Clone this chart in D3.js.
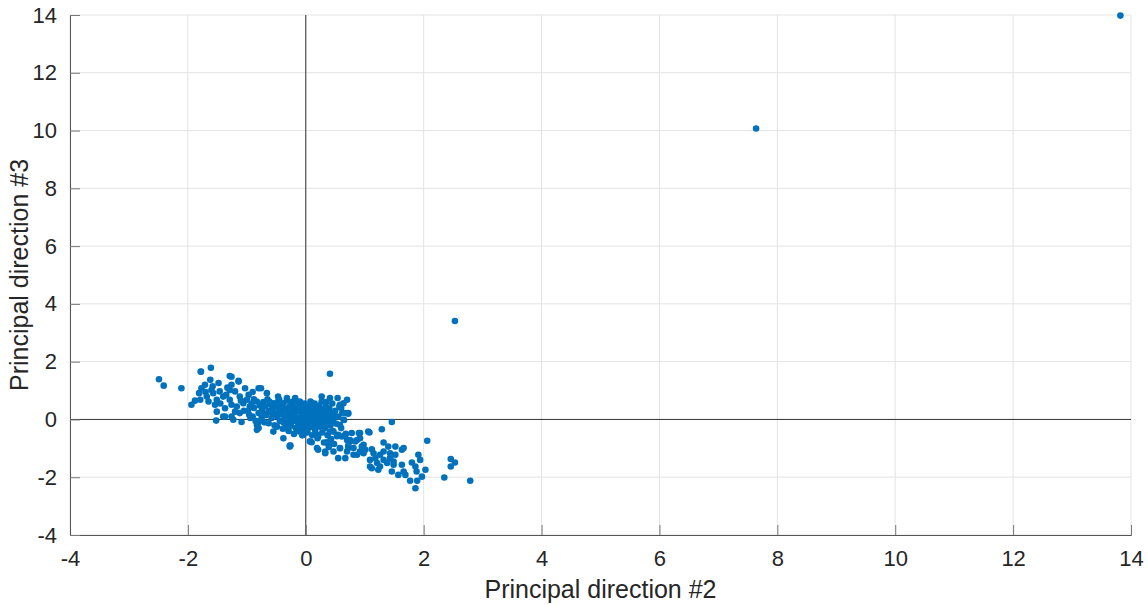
<!DOCTYPE html>
<html><head><meta charset="utf-8">
<script src="https://cdn.jsdelivr.net/npm/d3@7"></script>
<style>
body{margin:0;background:#fff;}
text{font-family:"Liberation Sans",Arial,Helvetica,sans-serif;}
</style></head>
<body><svg id="chart" width="1148" height="605"></svg>
<script>
const xTicks = [-4,-2,0,2,4,6,8,10,12,14];
const yTicks = [-4,-2,0,2,4,6,8,10,12,14];
const xLabel = "Principal direction #2";
const yLabel = "Principal direction #3";

// outliers
const outliers = [[13.82,13.98],[7.64,10.07],[2.53,3.41]];

// left tail of the cluster
const leftPts = [[-2.49,1.39],[-2.41,1.17],[-2.11,1.08],[-1.78,1.65],[-1.61,1.79],[-1.62,1.37],[-1.71,1.20],[-1.77,1.08],[-1.81,0.91],[-1.88,0.65],[-1.94,0.51],[-1.79,0.68],[-1.68,0.79],[-1.60,1.02],[-1.57,0.91],[-1.51,0.68],[-1.54,0.51],[-1.65,0.62],[-1.46,0.97],[-1.48,1.26],[-1.40,0.79],[-1.51,0.27],[-1.52,-0.04],[-1.37,0.39],[-1.37,0.10],[-1.29,1.50],[-1.26,1.20],[-1.14,1.31],[-1.29,1.02],[-1.20,0.97],[-1.03,1.08],[-1.12,0.79],[-1.29,0.68],[-1.26,0.51],[-1.17,0.45],[-1.06,0.56],[-1.00,0.68],[-1.20,0.27],[-1.12,0.22],[-1.26,0.10],[-1.23,-0.01],[-1.09,-0.09],[-0.96,0.16],[-0.95,0.45],[-0.97,0.85],[-1.40,0.10],[-1.78,1.66],[-1.26,1.48],[-1.14,1.34],[-0.80,1.08],
[-1.70,0.95],[-1.45,0.55],[-1.35,0.85],[-1.10,0.65],[-1.05,0.30],[-0.90,0.95],[-1.33,1.10],[-1.58,1.15]];

// central dense blob
const centerPts = [[-0.76,1.08],[-0.66,0.91],[-0.47,0.79],[-0.32,0.74],[-0.18,0.74],[-0.10,0.62],[0.10,0.56],[0.27,0.79],[0.41,0.74],[0.54,0.74],[0.70,0.68],[0.41,1.58],
[-0.98,0.30],[-0.92,0.55],[-0.90,0.10],[-0.88,0.40],[-0.85,-0.05],[-0.83,0.62],[-0.83,-0.19],[-0.80,0.22],[-0.78,0.48],[-0.75,0.04],[-0.74,0.33],[-0.72,0.60],[-0.70,-0.10],[-0.69,0.45],[-0.67,0.15],[-0.65,0.70],[-0.63,-0.13],[-0.62,0.30],[-0.60,0.52],[-0.58,0.05],[-0.56,0.38],[-0.55,0.56],[-0.53,-0.20],[-0.52,0.20],[-0.50,0.45],
[-0.49,-0.25],[-0.48,0.10],[-0.47,0.62],[-0.45,0.30],[-0.44,-0.05],[-0.42,0.50],[-0.40,0.18],[-0.39,-0.32],[-0.38,0.56],[-0.36,0.02],[-0.35,0.36],[-0.33,-0.15],[-0.32,0.66],[-0.30,0.25],[-0.29,-0.40],[-0.28,0.45],[-0.27,0.08],[-0.26,-0.90],[-0.25,-0.22],[-0.24,0.55],[-0.22,0.32],[-0.21,-0.05],[-0.20,-0.50],[-0.19,0.15],[-0.18,0.42],[-0.17,-0.30],[-0.15,0.62],[-0.14,0.05],[-0.13,-0.12],[-0.12,0.28],[-0.11,-0.42],[-0.10,0.48],[-0.09,-0.20],[-0.08,0.10],[-0.07,0.36],[-0.06,-0.55],[-0.05,-0.02],[-0.04,0.22],[-0.03,-0.32],[-0.02,0.55],[-0.01,0.08],
[0.01,-0.15],[0.02,0.30],[0.03,-0.45],[0.04,0.12],[0.05,0.45],[0.06,-0.28],[0.07,0.02],[0.08,0.62],[0.09,-0.08],[0.10,0.25],[0.10,-0.79],[0.11,-0.55],[0.12,0.40],[0.13,0.08],[0.14,-0.20],[0.15,0.55],[0.16,-0.38],[0.17,0.18],[0.18,-0.05],[0.19,0.35],[0.20,-0.65],[0.21,-0.59],[0.22,0.05],[0.23,0.48],[0.24,-0.25],[0.25,0.20],[0.26,-0.12],[0.27,0.62],[0.28,-0.45],[0.29,0.32],[0.30,0.00],[0.31,-0.80],[0.32,0.15],[0.33,-0.30],[0.34,0.45],[0.35,-0.10],[0.36,0.28],[0.37,-0.55],[0.38,0.08],[0.39,-0.95],[0.40,0.38],[0.42,-0.20],[0.43,-0.68],[0.44,0.20],[0.45,0.55],[0.46,-0.40],[0.47,0.02],[0.48,-0.85],[0.50,0.30],[0.52,-0.15],[0.53,-0.58],[0.55,0.10],[0.57,0.45],[0.58,-1.00],[0.60,-0.30],[0.62,0.22],[0.65,-0.02],[0.68,-0.50],[0.72,-0.90],[0.72,0.20],
[-0.30,0.10],[-0.25,-0.08],[-0.20,0.22],[-0.16,0.00],[-0.12,-0.06],[-0.08,-0.36],[-0.05,0.14],[-0.02,-0.10],[0.00,0.00],[0.02,-0.25],[0.04,0.20],[0.08,-0.12],[0.12,0.12],[0.15,-0.30],[0.20,0.10],[0.24,0.38],[-0.35,-0.30],[-0.42,0.35],[-0.58,0.25],[-0.70,0.20],[-0.62,0.62],[-0.88,0.70],[-0.94,0.05],[-0.80,-0.10],
[-0.45,0.68],[-0.38,-0.10],[-0.28,-0.05],[-0.22,0.62],[-0.12,-0.25],[-0.04,0.40],[0.06,0.30],[0.14,-0.05],[0.22,-0.15],[0.28,0.10],[0.35,0.60],[0.44,-0.05],[0.50,0.10],[0.60,0.40]];

// lower-right arm of the cluster
const rightPts = [[0.19,-0.99],[0.33,-1.11],[0.36,-0.79],[0.47,-0.42],[0.58,-0.19],[0.58,0.51],[0.72,0.22],[0.64,-0.01],[0.55,-0.53],[0.67,-0.53],[0.75,-0.76],[0.92,-0.47],[1.06,-0.42],[0.81,-0.99],[0.98,-0.88],[0.70,-1.11],[-0.27,-0.90],
[-0.80,-0.30],[-0.27,-0.94],[0.07,-0.76],[0.19,-0.53],[0.21,-1.05],[0.33,-1.17],[0.38,-0.82],[0.47,-1.11],[0.55,-1.34],[0.67,-1.34],[0.58,-0.99],[0.72,-0.99],[0.75,-0.71],[0.87,-1.22],[0.41,-0.42],[0.61,-0.59],[-0.04,-0.53],[-0.38,-0.65],[-0.55,-0.42],[-0.15,-0.36],[-0.83,-0.36],
[0.64,0.56],[0.67,0.22],[1.46,-0.09],[1.29,-0.34],[1.08,-0.45],[0.78,-0.47],[0.70,-0.71],[0.84,-0.76],[0.92,-0.65],[0.95,-0.94],[1.01,-1.05],[1.12,-1.03],[1.15,-1.17],[0.98,-1.17],[0.81,-1.22],[1.32,-0.80],[1.40,-0.94],[1.52,-0.94],[1.63,-1.05],[1.43,-1.17],[1.52,-1.22],[1.32,-1.11],[1.26,-1.22],[1.18,-1.34],[1.32,-1.40],[1.43,-1.34],[1.49,-1.46],[1.09,-1.40],[1.21,-1.51],[1.12,-1.69],[1.26,-1.63],[1.38,-1.51],[1.49,-1.57],[1.46,-1.80],[1.63,-1.57],[1.66,-1.80],[1.57,-1.92],[1.69,-1.92],[1.80,-1.49],[1.91,-1.22],[1.94,-1.40],[1.86,-1.63],[1.88,-1.80],[1.97,-1.98],[2.03,-1.74],[1.77,-2.12],[1.89,-2.12],[1.86,-2.38],[2.06,-0.74],[2.46,-1.37],[2.53,-1.49],[2.46,-1.63],[2.35,-2.01],[2.79,-2.12],
[0.92,-1.11],[1.23,-1.74],[1.09,-1.63],[0.90,-0.47],[0.87,-0.71],[1.66,-0.99]];

const points = outliers.concat(leftPts, centerPts, rightPts);

const svg = d3.select("#chart");
const margin = {left:70, right:17, top:15, bottom:70};
const W = 1148, H = 605;
const x = d3.scaleLinear().domain([-4,14]).range([margin.left, W - margin.right]);
const y = d3.scaleLinear().domain([-4,14]).range([H - margin.bottom, margin.top]);

const grid = svg.append("g");
grid.selectAll("line.gx").data(xTicks).join("line")
  .attr("x1", d=>x(d)).attr("x2", d=>x(d)).attr("y1", y(-4)).attr("y2", y(14))
  .attr("stroke", "#e3e3e3").attr("stroke-width", 1);
grid.selectAll("line.gy").data(yTicks).join("line")
  .attr("y1", d=>y(d)).attr("y2", d=>y(d)).attr("x1", x(-4)).attr("x2", x(14))
  .attr("stroke", "#e3e3e3").attr("stroke-width", 1);

// zero lines
svg.append("line").attr("x1", x(0)).attr("x2", x(0)).attr("y1", y(-4)).attr("y2", y(14))
  .attr("stroke", "#333").attr("stroke-width", 1);
svg.append("line").attr("x1", x(-4)).attr("x2", x(14)).attr("y1", y(0)).attr("y2", y(0))
  .attr("stroke", "#333").attr("stroke-width", 1);

// axes
const fmt = d => d < 0 ? "-" + Math.abs(d) : String(d);
const xAxis = d3.axisBottom(x).tickValues(xTicks).tickSize(-10).tickPadding(15).tickFormat(fmt);
const yAxis = d3.axisLeft(y).tickValues(yTicks).tickSize(-10).tickPadding(13).tickFormat(fmt);
const gx = svg.append("g").attr("transform", `translate(0,${y(-4)})`).call(xAxis);
const gy = svg.append("g").attr("transform", `translate(${x(-4)},0)`).call(yAxis);
[gx, gy].forEach(g => {
  g.attr("font-size", 22).attr("font-family", '"Liberation Sans",Arial,sans-serif');
  g.select(".domain").attr("stroke", "#555");
  g.selectAll(".tick line").attr("stroke", "#777");
  g.selectAll(".tick text").attr("fill", "#262626").attr("font-size", 22);
});

svg.append("g").selectAll("circle").data(points).join("circle")
  .attr("cx", d=>x(d[0])).attr("cy", d=>y(d[1])).attr("r", 3.3)
  .attr("fill", "#0072BD");

svg.append("text").attr("x", (x(-4)+x(14))/2).attr("y", 598)
  .attr("text-anchor", "middle").attr("fill", "#262626").attr("font-size", 25).text(xLabel);
svg.append("text").attr("transform", `translate(28,${(y(-4)+y(14))/2}) rotate(-90)`)
  .attr("text-anchor", "middle").attr("fill", "#262626").attr("font-size", 25).text(yLabel);
</script></body></html>
